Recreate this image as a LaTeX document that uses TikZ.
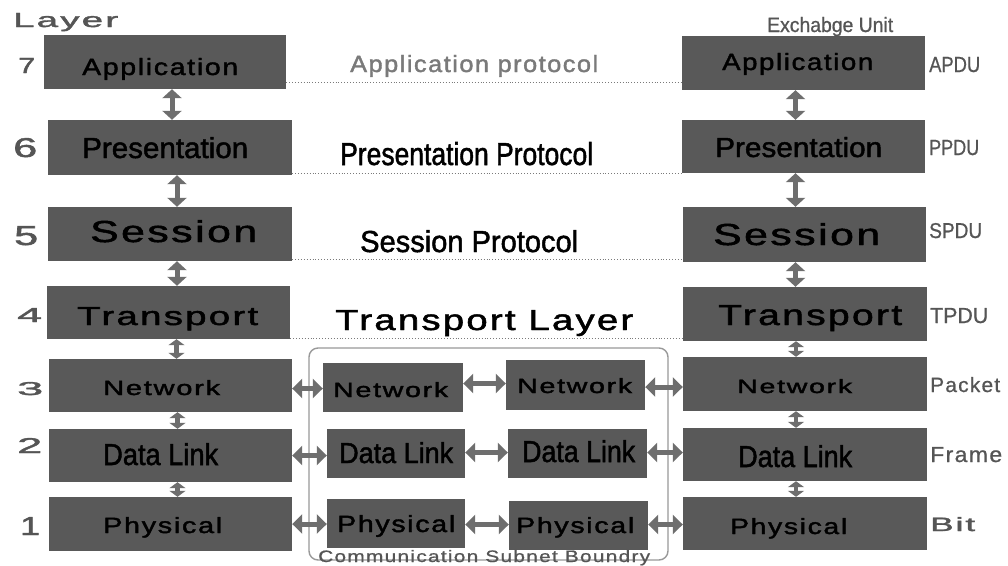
\documentclass[tikz,border=0pt]{standalone}
\usepackage{fontspec}
\setmainfont{Liberation Sans}
\newfontfamily\nf{Liberation Sans}[FakeBold=1.6]
\newfontfamily\wf{Liberation Sans}[FakeBold=1.6,LetterSpace=6]
\newfontfamily\lf{Liberation Sans}[FakeBold=0.8]
\newfontfamily\lwf{Liberation Sans}[FakeBold=0.8,LetterSpace=6]
\usepackage{graphicx}
\usetikzlibrary{arrows.meta,fit}
\definecolor{boxgray}{HTML}{595959}
\definecolor{arrowgray}{HTML}{6E6E6E}
\definecolor{labelgray}{HTML}{555555}
\definecolor{protogray}{HTML}{7A7A7A}
\definecolor{dotgray}{HTML}{7A7A7A}
\newcommand{\ft}[3]{\resizebox{#1pt}{#2pt}{#3}}
\newcommand{\bx}[5]{\node[lbox, fit={(#2,#3) (#4,#5)}] (#1) {};}
\newcommand{\tx}[7]{\node[txt, #2] (#1) at (#3,#4) {\ft{#5}{#6}{#7}};}
\begin{document}
\begin{tikzpicture}[x=1pt,y=-1pt,
  lbox/.style={fill=boxgray, draw=none, inner sep=0pt},
  txt/.style={inner sep=0pt, anchor=base west, font=\nf},
  wide/.style={font=\wf},
  lite/.style={font=\lf},
  litewide/.style={font=\lwf},
  gray/.style={text=labelgray},
  varrow/.style={draw=arrowgray, line width=5pt, {Triangle[width=19pt,length=9pt]}-{Triangle[width=19pt,length=9pt]}},
  sarrow/.style={draw=arrowgray, line width=4.5pt, {Triangle[width=16pt,length=6pt]}-{Triangle[width=16pt,length=6pt]}},
  harrow/.style={draw=arrowgray, line width=5pt, {Triangle[width=19pt,length=10pt]}-{Triangle[width=19pt,length=10pt]}},
  proto/.style={draw=dotgray, line width=0.9pt, dotted},
  subnet/.style={draw=gray!80, line width=1.4pt, rounded corners=9pt, inner sep=0pt}
]
\useasboundingbox[fill=white] (0,0) rectangle (1008,565);

% subnet boundary
\node[subnet, fit={(309,348) (668,560)}] (subnet) {};

% left stack
\bx{LA}{44}{35}{286}{89}
\bx{LP}{48}{120}{292}{175}
\bx{LS}{48}{207}{292}{261}
\bx{LT}{47}{286}{290}{339}
\bx{LN}{49}{359}{292}{412}
\bx{LD}{49}{429}{292}{482}
\bx{LPh}{49}{497}{292}{551}
% right stack
\bx{RA}{682}{36}{925}{90}
\bx{RP}{682}{120}{925}{173}
\bx{RS}{683}{207}{926}{262}
\bx{RT}{683}{287}{927}{341}
\bx{RN}{683}{357}{927}{411}
\bx{RD}{683}{428}{927}{481}
\bx{RPh}{683}{497}{927}{550}
% middle
\bx{MaN}{323}{363}{463}{412}
\bx{MbN}{506}{360}{645}{410}
\bx{MaD}{327}{429}{465}{478}
\bx{MbD}{508}{429}{647}{478}
\bx{MaP}{327}{499}{465}{548}
\bx{MbP}{509}{501}{648}{550}

% box texts
\tx{tLA}{wide}{82}{75}{156}{17}{Application}
\tx{tLP}{}{82}{158}{166}{21}{Presentation}
\tx{tLS}{wide}{90}{242}{167}{22}{Session}
\tx{tLT}{wide}{77}{325}{181}{18}{Transport}
\tx{tLN}{wide}{103}{395}{117}{15}{Network}
\tx{tLD}{}{103}{465}{115}{22}{Data Link}
\tx{tLPh}{wide}{103}{533}{119}{16}{Physical}
\tx{tRA}{wide}{722}{70}{151}{17}{Application}
\tx{tRP}{}{715}{157}{167}{20}{Presentation}
\tx{tRS}{wide}{713}{245}{167}{22}{Session}
\tx{tRT}{wide}{718}{325}{184}{20}{Transport}
\tx{tRN}{wide}{737}{393}{115}{14}{Network}
\tx{tRD}{}{738}{467}{114}{22}{Data Link}
\tx{tRPh}{wide}{730}{534}{117}{16}{Physical}
\tx{tMaN}{wide}{333}{397}{115}{15}{Network}
\tx{tMbN}{wide}{517}{393}{115}{15}{Network}
\tx{tMaD}{}{339}{463}{114}{21}{Data Link}
\tx{tMbD}{}{522}{462}{113}{22}{Data Link}
\tx{tMaP}{wide}{337}{532}{118}{17}{Physical}
\tx{tMbP}{wide}{516}{533}{118}{16}{Physical}

% layer numbers
\tx{layer}{wide,gray}{13}{27}{105}{14}{Layer}
\tx{n7}{gray}{18}{73}{17}{15}{7}
\tx{n6}{gray}{13}{157}{24}{19}{6}
\tx{n5}{gray}{14}{245}{24}{19}{5}
\tx{n4}{gray}{17}{322}{25}{14}{4}
\tx{n3}{gray}{17}{395}{26}{13}{3}
\tx{n2}{gray}{17}{453}{25}{15}{2}
\tx{n1}{gray}{20}{535}{20}{18}{1}

% exchange units
\tx{exu}{lite,gray}{767}{32}{126}{15}{Exchabge Unit}
\tx{apdu}{lite,gray}{929}{72}{51}{15}{APDU}
\tx{ppdu}{lite,gray}{929}{155}{50}{15}{PPDU}
\tx{spdu}{lite,gray}{929}{238}{53}{15}{SPDU}
\tx{tpdu}{lite,gray}{930}{323}{58}{15}{TPDU}
\tx{pkt}{litewide,gray}{930}{392}{70}{15}{Packet}
\tx{frm}{litewide,gray}{930}{462}{72}{15}{Frame}
\tx{bit}{wide,gray}{930}{531}{45}{14}{Bit}

% protocols
\tx{pA}{wide,text=protogray}{350}{72}{248}{17}{Application protocol}
\tx{pP}{}{340}{165}{253}{23}{Presentation Protocol}
\tx{pS}{}{360}{252}{218}{22}{Session Protocol}
\tx{pT}{wide}{335}{330}{298}{20}{Transport Layer}
\tx{sub}{litewide,text=labelgray}{318}{562}{332}{12}{Communication Subnet Boundry}

% dotted protocol lines
\draw[proto] ([yshift=-20pt]LA.east) -- ([yshift=-20pt]LA.east -| RA.west);
\draw[proto] ([yshift=-25.5pt]LP.east) -- ([yshift=-25.5pt]LP.east -| RP.west);
\draw[proto] ([yshift=-25pt]LS.east) -- ([yshift=-25pt]LS.east -| RS.west);
\draw[proto] ([yshift=-25.5pt]LT.east) -- ([yshift=-25.5pt]LT.east -| RT.west);

% vertical arrows left
\draw[varrow] ([xshift=7pt]LA.south) -- ([xshift=7pt]LA.south |- LP.north);
\draw[varrow] ([xshift=7pt]LP.south) -- ([xshift=7pt]LP.south |- LS.north);
\draw[varrow] ([xshift=7pt]LS.south) -- ([xshift=7pt]LS.south |- LT.north);
\draw[sarrow] ([xshift=8pt]LT.south) -- ([xshift=8pt]LT.south |- LN.north);
\draw[sarrow] ([xshift=7pt]LN.south) -- ([xshift=7pt]LN.south |- LD.north);
\draw[sarrow] ([xshift=7pt]LD.south) -- ([xshift=7pt]LD.south |- LPh.north);
% vertical arrows right
\draw[varrow] ([xshift=-8pt]RA.south) -- ([xshift=-8pt]RA.south |- RP.north);
\draw[varrow] ([xshift=-8pt]RP.south) -- ([xshift=-8pt]RP.south |- RS.north);
\draw[varrow] ([xshift=-9pt]RS.south) -- ([xshift=-9pt]RS.south |- RT.north);
\draw[sarrow] ([xshift=-9pt]RT.south) -- ([xshift=-9pt]RT.south |- RN.north);
\draw[sarrow] ([xshift=-9pt]RN.south) -- ([xshift=-9pt]RN.south |- RD.north);
\draw[sarrow] ([xshift=-9pt]RD.south) -- ([xshift=-9pt]RD.south |- RPh.north);

% horizontal arrows
\draw[harrow] ([yshift=-3pt]LN.east) -- ([yshift=-3pt]LN.east -| MaN.west);
\draw[harrow] ([yshift=4pt]MaN.east) -- ([yshift=4pt]MaN.east -| MbN.west);
\draw[harrow] ([yshift=-2pt]MbN.east) -- ([yshift=-2pt]MbN.east -| RN.west);
\draw[harrow] (LD.east) -- (LD.east -| MaD.west);
\draw[harrow] ([yshift=1pt]MaD.east) -- ([yshift=1pt]MaD.east -| MbD.west);
\draw[harrow] ([yshift=1pt]MbD.east) -- ([yshift=1pt]MbD.east -| RD.west);
\draw[harrow] (LPh.east) -- (LPh.east -| MaP.west);
\draw[harrow] ([yshift=-1pt]MaP.east) -- ([yshift=-1pt]MaP.east -| MbP.west);
\draw[harrow] ([yshift=1pt]MbP.east) -- ([yshift=1pt]MbP.east -| RPh.west);
\end{tikzpicture}
\end{document}
